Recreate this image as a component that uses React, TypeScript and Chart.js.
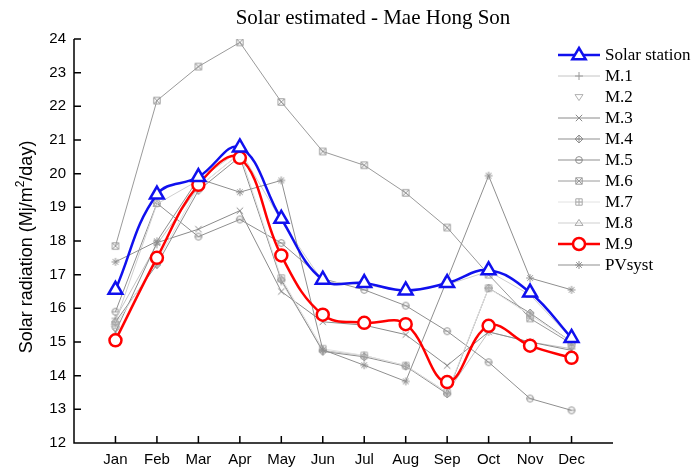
import React, { useEffect, useRef } from "react";
import { Chart, registerables } from "chart.js";

Chart.register(...registerables);

// Monthly mean daily solar radiation, Mae Hong Son (MJ/m²/day)
const months = ["Jan", "Feb", "Mar", "Apr", "May", "Jun", "Jul", "Aug", "Sep", "Oct", "Nov", "Dec"];
const yTicks = [12, 13, 14, 15, 16, 17, 18, 19, 20, 21, 22, 23, 24];

const solarStation = [16.55, 19.38, 19.9, 20.78, 18.66, 16.85, 16.75, 16.53, 16.75, 17.13, 16.47, 15.12];
const m1 = [15.7, 17.9, 19.6, 20.6, 16.8, 14.75, 14.6, 14.3, 13.5, 15.3, 15.0, 14.8];
const m2 = [15.4, 17.3, 19.6, 20.5, 17.6, 15.8, 15.6, 15.5, 13.9, 15.5, 14.9, 14.6];
const m3 = [15.3, 17.95, 18.35, 18.9, 16.5, 15.6, 15.5, 15.22, 14.3, 15.3, 15.0, 14.75];
const m4 = [15.6, 17.3, 19.5, 20.5, 16.85, 14.72, 14.56, 14.28, 13.46, 16.6, 15.86, 15.0];
const m5 = [15.9, 19.12, 18.13, 18.64, 17.94, 16.88, 16.55, 16.08, 15.32, 14.4, 13.32, 12.97];
const m6 = [17.85, 22.17, 23.18, 23.9, 22.13, 20.66, 20.25, 19.43, 18.4, 17.0, 15.7, 14.95];
const m7 = [15.5, 17.4, 19.6, 20.6, 16.9, 14.8, 14.6, 14.3, 13.5, 16.6, 15.8, 15.0];
const m8 = [15.6, 19.1, 19.8, 20.7, 18.6, 16.8, 16.7, 16.5, 16.7, 17.1, 16.4, 15.1];
const m9 = [15.05, 17.5, 19.67, 20.47, 17.57, 15.81, 15.57, 15.53, 13.81, 15.48, 14.89, 14.53];
const pvsyst = [17.38, 17.99, 19.85, 19.45, 19.8, 14.77, 14.31, 13.83, 16.85, 19.94, 16.9, 16.55];

const W = 697;
const H = 470;
const AREA = { left: 74, top: 39, right: 613, bottom: 443 };
const SANS = "'Liberation Sans', Arial, sans-serif";
const SERIF = "'Liberation Serif', 'Times New Roman', serif";

type Kind = "plus" | "tdown" | "x" | "diamondPlus" | "circleBar" | "squareX" | "squarePlus" | "tri" | "star";

function makeMarker(kind: Kind, size: number, color: string, lw = 1): HTMLCanvasElement {
  const c = document.createElement("canvas");
  c.width = size;
  c.height = size;
  const g = c.getContext("2d")!;
  g.strokeStyle = color;
  g.lineWidth = lw;
  const h = size / 2;
  const r = h - 1;
  g.beginPath();
  switch (kind) {
    case "plus":
      g.moveTo(h, h - r); g.lineTo(h, h + r);
      g.moveTo(h - r, h); g.lineTo(h + r, h);
      break;
    case "x":
      g.moveTo(h - r * 0.8, h - r * 0.8); g.lineTo(h + r * 0.8, h + r * 0.8);
      g.moveTo(h + r * 0.8, h - r * 0.8); g.lineTo(h - r * 0.8, h + r * 0.8);
      break;
    case "tdown":
      g.moveTo(h - r, h - r * 0.6); g.lineTo(h + r, h - r * 0.6); g.lineTo(h, h + r * 0.9); g.closePath();
      break;
    case "tri":
      g.moveTo(h - r, h + r * 0.6); g.lineTo(h + r, h + r * 0.6); g.lineTo(h, h - r * 0.9); g.closePath();
      break;
    case "diamondPlus":
      g.moveTo(h, h - r); g.lineTo(h + r, h); g.lineTo(h, h + r); g.lineTo(h - r, h); g.closePath();
      g.moveTo(h, h - r); g.lineTo(h, h + r);
      g.moveTo(h - r, h); g.lineTo(h + r, h);
      break;
    case "circleBar":
      g.arc(h, h, r * 0.85, 0, Math.PI * 2);
      g.moveTo(h - r * 0.85, h); g.lineTo(h + r * 0.85, h);
      break;
    case "squareX": {
      const s = r * 0.8;
      g.rect(h - s, h - s, 2 * s, 2 * s);
      g.moveTo(h - s, h - s); g.lineTo(h + s, h + s);
      g.moveTo(h + s, h - s); g.lineTo(h - s, h + s);
      break;
    }
    case "squarePlus": {
      const s = r * 0.8;
      g.rect(h - s, h - s, 2 * s, 2 * s);
      g.moveTo(h, h - s); g.lineTo(h, h + s);
      g.moveTo(h - s, h); g.lineTo(h + s, h);
      break;
    }
    case "star":
      g.moveTo(h, h - r); g.lineTo(h, h + r);
      g.moveTo(h - r, h); g.lineTo(h + r, h);
      g.moveTo(h - r * 0.7, h - r * 0.7); g.lineTo(h + r * 0.7, h + r * 0.7);
      g.moveTo(h + r * 0.7, h - r * 0.7); g.lineTo(h - r * 0.7, h + r * 0.7);
      break;
  }
  g.stroke();
  return c;
}

type SeriesDef = {
  label: string;
  values: number[];
  line: string | null;
  marker: Kind;
  markerColor: string;
};

const graySeries: SeriesDef[] = [
  { label: "M.1", values: m1, line: "#c4c4c4", marker: "plus", markerColor: "#9a9a9a" },
  { label: "M.2", values: m2, line: null, marker: "tdown", markerColor: "#b0b0b0" },
  { label: "M.3", values: m3, line: "#8a8a8a", marker: "x", markerColor: "#8a8a8a" },
  { label: "M.4", values: m4, line: "#8f8f8f", marker: "diamondPlus", markerColor: "#8f8f8f" },
  { label: "M.5", values: m5, line: "#8f8f8f", marker: "circleBar", markerColor: "#8f8f8f" },
  { label: "M.6", values: m6, line: "#9a9a9a", marker: "squareX", markerColor: "#9a9a9a" },
  { label: "M.7", values: m7, line: "#e2e2e2", marker: "squarePlus", markerColor: "#a8a8a8" },
  { label: "M.8", values: m8, line: "#cfcfcf", marker: "tri", markerColor: "#a8a8a8" },
];
const pvDef: SeriesDef = { label: "PVsyst", values: pvsyst, line: "#8f8f8f", marker: "star", markerColor: "#8f8f8f" };

const BLUE = "#1010ee";
const RED = "#ff0000";

const toPoints = (vals: number[]) => vals.map((y, i) => ({ x: i + 1, y }));

function drawTri(ctx: CanvasRenderingContext2D, x: number, y: number, r: number) {
  ctx.beginPath();
  ctx.moveTo(x, y - r);
  ctx.lineTo(x + r * 0.95, y + r * 0.6);
  ctx.lineTo(x - r * 0.95, y + r * 0.6);
  ctx.closePath();
  ctx.fillStyle = "#fff";
  ctx.fill();
  ctx.stroke();
}

export default function App() {
  const ref = useRef<HTMLCanvasElement | null>(null);

  useEffect(() => {
    const canvas = ref.current;
    if (!canvas) return;

    const markers = new Map<string, HTMLCanvasElement>();
    [...graySeries, pvDef].forEach((s) => markers.set(s.label, makeMarker(s.marker, 10, s.markerColor, 1)));

    const grayDatasets = [...graySeries, pvDef].map((s, i) => ({
      label: s.label,
      data: toPoints(s.values),
      borderColor: s.line ?? "rgba(0,0,0,0)",
      borderWidth: 1,
      showLine: s.line !== null,
      tension: 0,
      pointStyle: markers.get(s.label),
      pointRadius: 5,
      order: 10 - i,
    }));

    const frame = {
      id: "frame",
      afterDraw(chart: any) {
        const { ctx } = chart;
        const xs = chart.scales.x;
        const ys = chart.scales.y;
        const { left, right, top, bottom } = chart.chartArea;
        ctx.save();

        // title
        ctx.fillStyle = "#000";
        ctx.font = `21px ${SERIF}`;
        ctx.textAlign = "center";
        ctx.textBaseline = "middle";
        ctx.fillText("Solar estimated - Mae Hong Son", 373, 18);

        // axes with inward ticks
        ctx.strokeStyle = "#000";
        ctx.lineWidth = 1.5;
        ctx.beginPath();
        ctx.moveTo(left, top);
        ctx.lineTo(left, bottom);
        ctx.lineTo(right, bottom);
        for (const v of yTicks) {
          const y = ys.getPixelForValue(v);
          ctx.moveTo(left, y);
          ctx.lineTo(left + 7, y);
        }
        months.forEach((_, i) => {
          const x = xs.getPixelForValue(i + 1);
          ctx.moveTo(x, bottom);
          ctx.lineTo(x, bottom - 7);
        });
        ctx.stroke();

        // y axis title with superscript
        ctx.translate(27, (top + bottom) / 2 + 6);
        ctx.rotate(-Math.PI / 2);
        ctx.textAlign = "left";
        ctx.textBaseline = "middle";
        const big = `18px ${SANS}`;
        const small = `12px ${SANS}`;
        const p1 = "Solar radiation (Mj/m";
        const p2 = "2";
        const p3 = "/day)";
        ctx.font = big;
        const w1 = ctx.measureText(p1).width;
        const w3 = ctx.measureText(p3).width;
        ctx.font = small;
        const w2 = ctx.measureText(p2).width;
        let x0 = -(w1 + w2 + w3) / 2;
        ctx.font = big;
        ctx.fillText(p1, x0, 0);
        x0 += w1;
        ctx.font = small;
        ctx.fillText(p2, x0, -6);
        x0 += w2;
        ctx.font = big;
        ctx.fillText(p3, x0, 0);
        ctx.restore();

        // legend
        ctx.save();
        const rows: { label: string; draw: (cx: number, cy: number) => void }[] = [];
        rows.push({
          label: "Solar station",
          draw: (cx, cy) => {
            ctx.strokeStyle = BLUE;
            ctx.lineWidth = 2.5;
            ctx.beginPath();
            ctx.moveTo(cx - 21, cy);
            ctx.lineTo(cx + 21, cy);
            ctx.stroke();
            drawTri(ctx, cx, cy, 7);
          },
        });
        graySeries.forEach((s) =>
          rows.push({
            label: s.label,
            draw: (cx, cy) => {
              if (s.line) {
                ctx.strokeStyle = s.line;
                ctx.lineWidth = 1;
                ctx.beginPath();
                ctx.moveTo(cx - 21, cy);
                ctx.lineTo(cx + 21, cy);
                ctx.stroke();
              }
              ctx.drawImage(markers.get(s.label)!, cx - 5, cy - 5, 10, 10);
            },
          })
        );
        rows.push({
          label: "M.9",
          draw: (cx, cy) => {
            ctx.strokeStyle = RED;
            ctx.lineWidth = 2.5;
            ctx.beginPath();
            ctx.moveTo(cx - 21, cy);
            ctx.lineTo(cx + 21, cy);
            ctx.stroke();
            ctx.beginPath();
            ctx.arc(cx, cy, 6, 0, Math.PI * 2);
            ctx.fillStyle = "#fff";
            ctx.fill();
            ctx.stroke();
          },
        });
        rows.push({
          label: "PVsyst",
          draw: (cx, cy) => {
            ctx.strokeStyle = pvDef.line!;
            ctx.lineWidth = 1;
            ctx.beginPath();
            ctx.moveTo(cx - 21, cy);
            ctx.lineTo(cx + 21, cy);
            ctx.stroke();
            ctx.drawImage(markers.get("PVsyst")!, cx - 5, cy - 5, 10, 10);
          },
        });
        rows.forEach((row, i) => {
          const cy = 55 + i * 21;
          row.draw(579, cy);
          ctx.fillStyle = "#000";
          ctx.font = `17px ${SERIF}`;
          ctx.textAlign = "left";
          ctx.textBaseline = "middle";
          ctx.fillText(row.label, 605, cy + 1);
        });
        ctx.restore();
      },
    };

    const chart = new Chart(canvas, {
      type: "scatter",
      data: {
        datasets: [
          ...grayDatasets,
          {
            label: "M.9",
            data: toPoints(m9),
            borderColor: RED,
            backgroundColor: "#fff",
            borderWidth: 2.5,
            showLine: true,
            tension: 0.4,
            pointStyle: "circle",
            pointRadius: 6,
            pointBorderWidth: 2.5,
            order: 1,
          },
          {
            label: "Solar station",
            data: toPoints(solarStation),
            borderColor: BLUE,
            backgroundColor: "#fff",
            borderWidth: 2.5,
            showLine: true,
            tension: 0.4,
            pointStyle: "triangle",
            pointRadius: 8,
            pointBorderWidth: 2.5,
            order: 0,
          },
        ] as any,
      },
      options: {
        responsive: false,
        animation: false,
        devicePixelRatio: 1,
        layout: { padding: { top: AREA.top, right: W - AREA.right, left: 0, bottom: 0 } },
        plugins: {
          legend: { display: false },
          title: { display: false },
          tooltip: { enabled: false },
        },
        scales: {
          x: {
            type: "linear",
            min: 0,
            max: 13,
            grid: { display: false, drawTicks: false },
            border: { display: false },
            afterBuildTicks: (s: any) => {
              s.ticks = months.map((_, i) => ({ value: i + 1 }));
            },
            afterFit: (s: any) => {
              s.height = H - AREA.bottom;
            },
            ticks: {
              autoSkip: false,
              maxRotation: 0,
              padding: 8,
              color: "#000",
              font: { family: SANS, size: 15 },
              callback: (v: any) => months[Number(v) - 1] ?? "",
            },
          },
          y: {
            min: 12,
            max: 24,
            grid: { display: false, drawTicks: false },
            border: { display: false },
            afterBuildTicks: (s: any) => {
              s.ticks = yTicks.map((v) => ({ value: v }));
            },
            afterFit: (s: any) => {
              s.width = AREA.left;
            },
            ticks: {
              padding: 8,
              color: "#000",
              font: { family: SANS, size: 15 },
            },
          },
        },
      } as any,
      plugins: [frame],
    });

    return () => chart.destroy();
  }, []);

  return (
    <div style={{ position: "fixed", left: 0, top: 0, width: W, height: H, background: "#fff" }}>
      <canvas ref={ref} width={W} height={H} style={{ display: "block", width: W, height: H }} />
    </div>
  );
}
